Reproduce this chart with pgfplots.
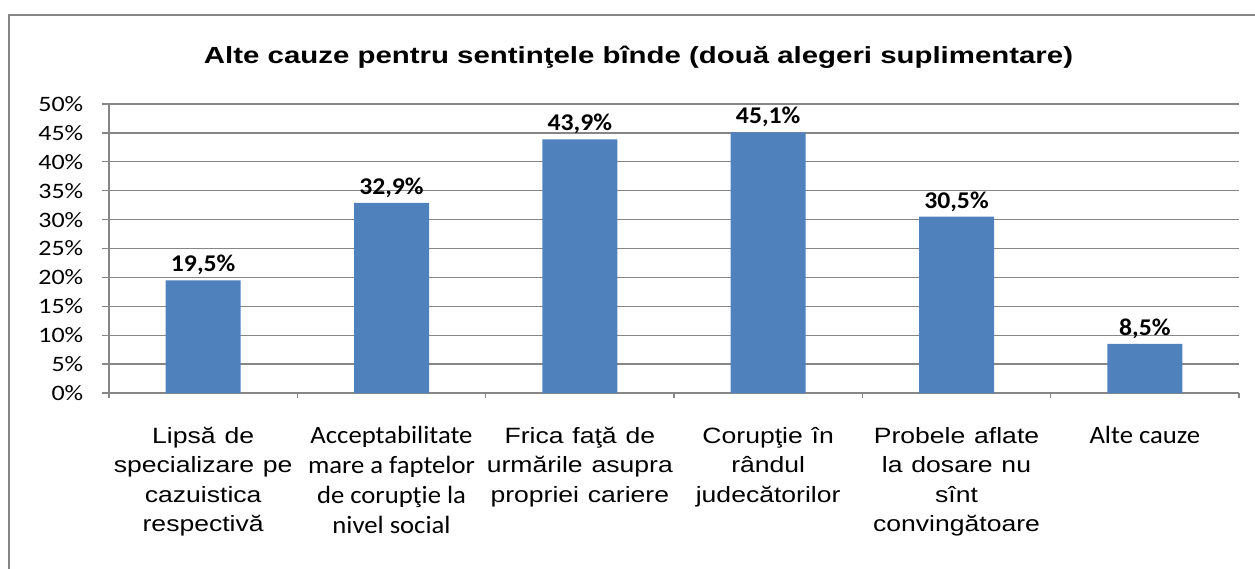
\documentclass[border=0pt]{standalone}
\usepackage{pgfplots}
\pgfplotsset{compat=1.18}
\usepackage{fontspec}
\setmainfont{Liberation Sans}
\newfontfamily\arialx[FakeStretch=1.2, WordSpace=1.2]{Liberation Sans}
\newfontfamily\arialt[FakeStretch=1.26]{Liberation Sans}
\newfontfamily\calibrix[FakeStretch=1.07]{Carlito}
\newfontfamily\calibrit[FakeStretch=1.18]{Carlito}
\newfontfamily\calibrid[FakeStretch=1.07]{Carlito}
\definecolor{barblue}{RGB}{79,129,189}
\definecolor{axgray}{RGB}{134,134,134}
\newcommand\xla{\arialx\fontsize{16.6}{22}\selectfont}
\newcommand\xlc{\calibrix\fontsize{18.7}{22.5}\selectfont}
\newcommand\xl[1]{\parbox[t]{200pt}{\centering #1}}
\begin{document}
\begin{tikzpicture}
\useasboundingbox (0pt,0pt) rectangle (941.25pt,426pt);
\draw[axgray, line width=1.5pt] (6.75pt,-5pt) -- (6.75pt,414.75pt) -- (960pt,414.75pt);
\node[font={\arialt\bfseries\fontsize{17.5}{20}\selectfont}, anchor=base] at (478.9pt,378pt) {Alte cauze pentru sentinţele bînde (două alegeri suplimentare)};
\begin{axis}[
  at={(81.75pt,131.25pt)}, anchor=south west,
  scale only axis, width=847.5pt, height=216.75pt,
  xmin=-0.5, xmax=5.5, ymin=0, ymax=50,
  axis x line*=bottom, axis y line*=left,
  axis line style={axgray, line width=1pt, -},
  /pgf/number format/assume math mode=true,
  ytick={0,5,...,50},
  yticklabel={\pgfmathprintnumber{\tick}\%},
  yticklabel style={font={\calibrit\fontsize{16.5}{19}\selectfont}, anchor=east, xshift=-10.5pt},
  ymajorgrids, grid style={axgray, line width=1pt},
  tick style={axgray, line width=1pt},
  tick align=outside,
  major tick length=5.25pt,
  xtick={0,...,5},
  major x tick style={draw=none},
  minor xtick={-0.5,0.5,...,5.5},
  minor tick length=4pt,
  xticklabels={
    {\xl{\xla Lipsă de\\specializare pe\\cazuistica\\respectivă}},
    {\xl{\xlc Acceptabilitate\\mare a faptelor\\de corupţie la\\nivel social}},
    {\xl{\xla Frica faţă de\\urmările asupra\\propriei cariere}},
    {\xl{\xla Corupţie în\\rândul\\judecătorilor}},
    {\xl{\xla Probele aflate\\la dosare nu\\sînt\\convingătoare}},
    {\xl{\xlc Alte cauze}}
  },
  xticklabel style={anchor=base, yshift=-32.5pt},
  ybar, bar width=56.25pt,
  nodes near coords={\pgfmathprintnumber[fixed,fixed zerofill,precision=1,use comma]{\pgfplotspointmeta}\%},
  nodes near coords style={font={\calibrid\bfseries\fontsize{18}{21}\selectfont}, anchor=base, yshift=6.5pt, text=black},
]
\addplot[fill=barblue, draw=none] coordinates {(0,19.5) (1,32.9) (2,43.9) (3,45.1) (4,30.5) (5,8.5)};
\end{axis}
\end{tikzpicture}
\end{document}
